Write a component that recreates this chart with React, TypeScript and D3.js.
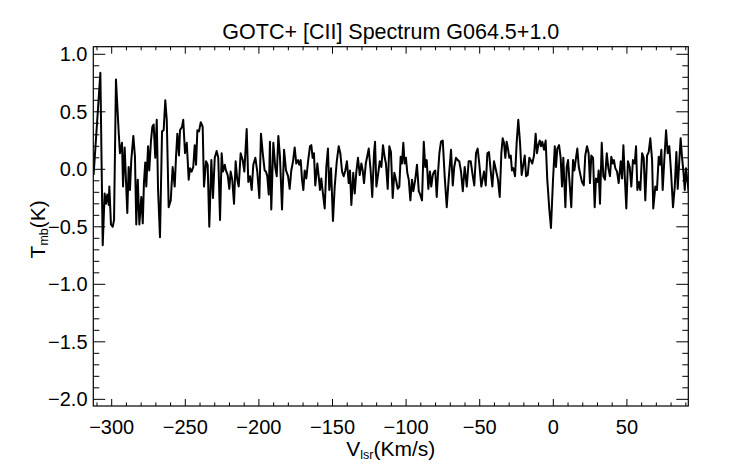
import * as d3 from 'd3';

// velocities (km/s) of the spectrum samples
const velocity = [
  -312.3, -307.7, -306.1, -304.8, -303.9, -303.0, -302.0, -301.6, -300.5, -299.3,
  -298.4, -297.1, -295.2, -294.4, -293.0, -292.3, -291.2, -289.4, -288.5, -287.6,
  -286.7, -285.3, -284.2, -283.3, -282.3, -281.2, -279.9, -278.9, -278.1, -277.2,
  -276.5, -275.3, -274.5, -273.3, -272.4, -271.5, -270.4, -269.4, -268.5, -267.2,
  -265.8, -264.7, -263.6, -262.6, -261.3, -259.9, -258.6, -257.2, -256.3, -255.4,
  -254.3, -253.6, -252.2, -251.4, -250.2, -249.0, -247.7, -246.8, -245.7, -244.6,
  -243.6, -242.7, -241.8, -240.7, -239.5, -238.2, -237.3, -235.9, -234.8, -233.7,
  -232.3, -231.2, -230.0, -228.7, -227.6, -226.4, -225.3, -224.4, -223.2, -222.4,
  -221.2, -220.1, -219.2, -218.1, -216.9, -215.8, -214.7, -213.7, -212.4, -211.0,
  -209.9, -208.3, -207.2, -206.0, -204.9, -203.8, -202.4, -201.1, -199.7, -198.6,
  -197.4, -196.1, -195.2, -194.3, -193.3, -192.5, -191.6, -190.2, -188.9, -187.9,
  -186.8, -185.7, -184.3, -182.9, -181.6, -180.2, -179.1, -178.0, -176.8, -175.7,
  -174.6, -173.4, -172.6, -171.6, -170.7, -169.8, -168.9, -167.8, -166.6, -165.3,
  -164.4, -163.5, -162.6, -161.7, -160.3, -159.4, -158.5, -157.6, -156.7, -155.3,
  -154.2, -153.1, -152.2, -151.0, -149.7, -148.5, -147.1, -145.8, -144.7, -143.5,
  -142.4, -141.3, -140.2, -139.0, -138.1, -137.2, -135.9, -134.9, -133.8, -132.7,
  -131.5, -130.4, -129.5, -128.6, -127.4, -126.6, -125.4, -124.1, -123.0, -121.8,
  -121.1, -120.2, -119.1, -117.9, -116.8, -115.7, -114.5, -113.7, -112.5, -111.4,
  -110.3, -109.1, -108.0, -106.9, -105.7, -104.6, -103.7, -102.8, -101.9, -101.0,
  -100.1, -99.2, -98.2, -97.1, -96.0, -95.1, -93.8, -92.6, -91.4, -90.4,
  -89.2, -88.0, -87.0, -86.0, -84.9, -83.8, -82.9, -81.9, -81.0, -80.2,
  -79.2, -78.3, -77.4, -76.3, -75.1, -73.8, -72.4, -71.1, -69.5, -68.3,
  -67.3, -66.1, -64.9, -63.9, -62.7, -61.5, -60.2, -58.8, -57.5, -56.1,
  -54.8, -53.7, -52.5, -51.4, -50.3, -48.9, -47.1, -45.9, -44.8, -43.7,
  -42.5, -41.4, -40.3, -38.9, -37.6, -36.4, -35.3, -34.4, -33.5, -32.6,
  -31.7, -30.8, -29.9, -28.9, -28.1, -27.2, -26.0, -24.9, -23.8, -22.6,
  -21.5, -20.4, -19.4, -18.5, -17.4, -16.3, -15.4, -14.3, -13.1, -12.0,
  -11.1, -10.2, -9.2, -8.4, -7.5, -6.3, -5.2, -4.1, -2.7, -1.6,
  -0.2, 1.0, 1.8, 2.7, 3.9, 5.0, 5.9, 6.8, 8.2, 9.1,
  10.0, 10.9, 12.2, 13.4, 14.3, 15.2, 16.3, 17.3, 18.6, 19.5,
  20.7, 21.7, 22.9, 24.0, 24.9, 25.8, 27.0, 28.1, 29.0, 30.2,
  30.8, 31.7, 32.9, 34.0, 35.1, 36.3, 37.4, 38.5, 39.4, 40.4,
  41.2, 42.1, 43.3, 44.4, 45.8, 46.7, 47.6, 48.5, 49.6, 50.7,
  51.9, 53.0, 54.1, 55.3, 56.2, 57.1, 58.0, 59.1, 60.3, 61.4,
  62.5, 63.7, 64.8, 65.9, 67.1, 67.9, 69.3, 70.4, 71.6, 72.5,
  73.4, 74.3, 75.4, 76.6, 77.7, 78.8, 80.0, 81.3, 82.5, 83.6,
  84.5, 85.6, 86.5, 87.4, 88.3, 89.3, 90.1, 91.0, 92.0,
];

// main-beam temperature (K) at each velocity
const tmb = [
  -0.05, 0.84, -0.66, -0.21, -0.30, -0.22, -0.31, -0.15, -0.48, -0.50,
  -0.44, 0.78, 0.31, 0.14, 0.23, -0.15, 0.19, -0.38, 0.02, -0.18,
  0.08, 0.29, 0.11, -0.48, -0.09, -0.48, -0.24, -0.47, -0.12, 0.06,
  -0.15, 0.20, -0.01, 0.25, 0.37, 0.39, 0.10, 0.43, -0.18, -0.59,
  0.33, 0.34, 0.60, 0.43, -0.33, -0.27, 0.02, -0.15, 0.11, 0.31,
  0.12, 0.34, 0.37, 0.43, 0.14, 0.23, -0.09, 0.01, -0.02, 0.02,
  0.21, 0.04, 0.34, 0.33, 0.41, 0.37, -0.15, 0.07, 0.04, -0.50,
  0.08, -0.25, 0.10, 0.16, 0.10, -0.44, 0.14, -0.02, 0.04, -0.01,
  -0.05, -0.17, -0.02, -0.09, -0.30, 0.07, -0.09, -0.15, 0.14, 0.08,
  -0.02, 0.35, -0.11, -0.06, -0.18, 0.04, 0.10, -0.02, -0.25, 0.31,
  0.14, -0.01, -0.02, -0.06, -0.22, 0.24, -0.35, 0.23, 0.02, -0.06,
  0.29, 0.11, -0.35, 0.17, -0.01, -0.06, -0.17, -0.01, 0.07, 0.19,
  0.05, 0.08, 0.04, 0.08, -0.09, -0.18, -0.01, -0.08, 0.07, 0.20,
  0.21, 0.10, 0.14, -0.14, 0.05, -0.06, -0.18, -0.08, -0.19, -0.34,
  0.02, 0.18, -0.18, 0.01, -0.45, -0.15, 0.07, 0.20, 0.14, -0.02,
  -0.06, -0.01, 0.07, -0.12, -0.01, -0.31, -0.03, -0.21, -0.02, 0.10,
  -0.05, 0.05, -0.01, -0.12, 0.05, 0.10, 0.18, -0.01, -0.24, 0.14,
  0.24, -0.15, -0.05, 0.07, 0.02, 0.21, 0.10, 0.05, -0.17, 0.20,
  0.15, -0.25, -0.03, -0.09, -0.17, -0.15, 0.11, 0.05, 0.23, 0.05,
  0.10, -0.03, -0.09, -0.27, -0.09, -0.19, -0.09, 0.04, -0.19, -0.22,
  -0.27, 0.24, 0.02, 0.08, -0.17, -0.02, -0.15, -0.05, -0.02, -0.01,
  -0.24, -0.03, 0.14, 0.24, 0.25, -0.06, -0.33, -0.09, 0.17, -0.14,
  0.02, 0.10, 0.08, 0.07, -0.02, -0.19, 0.02, -0.15, 0.07, 0.07,
  -0.05, -0.14, 0.14, 0.18, 0.05, -0.15, -0.02, -0.14, 0.14, 0.15,
  -0.02, -0.15, 0.07, -0.01, -0.09, -0.24, 0.14, 0.27, 0.23, 0.10,
  0.24, 0.18, 0.10, 0.12, -0.01, 0.01, -0.06, 0.23, 0.43, 0.23,
  -0.05, 0.04, 0.12, -0.06, -0.05, 0.10, 0.08, 0.05, 0.12, 0.31,
  0.14, 0.21, 0.25, 0.20, 0.24, 0.17, 0.25, -0.09, -0.35, -0.51,
  -0.09, 0.20, 0.02, 0.18, 0.21, 0.10, -0.15, 0.10, -0.33, 0.02,
  0.08, -0.09, -0.33, 0.08, -0.01, 0.08, 0.18, 0.02, -0.06, -0.11,
  -0.14, 0.12, 0.20, 0.14, -0.12, 0.12, 0.10, -0.33, -0.08, -0.11,
  -0.01, -0.30, 0.23, -0.06, -0.09, 0.14, 0.01, -0.06, 0.11, 0.05,
  0.08, 0.01, -0.02, -0.12, 0.07, -0.08, 0.21, -0.05, -0.34, 0.07,
  0.02, -0.15, 0.08, 0.05, 0.20, -0.18, -0.11, -0.18, 0.14, 0.10,
  -0.27, 0.12, 0.15, 0.27, 0.08, -0.34, -0.15, -0.18, 0.11, 0.04,
  0.17, -0.18, 0.08, 0.34, 0.14, 0.20, -0.03, -0.33, -0.15, 0.15,
  -0.17, 0.08, 0.27, 0.11, -0.01, -0.18, 0.01, -0.09, -0.20,
];

const xMajor = [-300, -250, -200, -150, -100, -50, 0, 50];
const yMajor = [-2.0, -1.5, -1.0, -0.5, 0.0, 0.5, 1.0];

const W = 742;
const H = 464;
const left = 93.3;
const right = 688.3;
const top = 46.7;
const bottom = 406;
const font = 'Liberation Sans, Arial, Helvetica, sans-serif';

const App = () => {
  const x = d3.scaleLinear().domain([-312.5, 91.7]).range([left, right]);
  const y = d3.scaleLinear().domain([-2.058, 1.066]).range([bottom, top]);

  const data: [number, number][] = velocity.map((v, i) => [v, tmb[i]]);
  const line = d3
    .line<[number, number]>()
    .x((d) => x(d[0]))
    .y((d) => y(d[1]));

  const xMinor = d3.range(-310, 91, 10).filter((v) => v % 50 !== 0);
  const yMinor = d3.range(-20, 11, 1).filter((v) => v % 5 !== 0).map((v) => v / 10);

  const fmtY = d3.format('.1f');
  const fmtX = d3.format('d');

  return (
    <svg
      width={W}
      height={H}
      style={{position: 'absolute', left: 0, top: 0, background: '#fff'}}
      fontFamily={font}
    >
      <defs>
        <clipPath id='plotClip'>
          <rect x={left} y={top} width={right - left} height={bottom - top} />
        </clipPath>
      </defs>

      <text x={(left + right) / 2} y={38.5} textAnchor='middle' fontSize={21.5}>
        GOTC+ [CII] Spectrum G064.5+1.0
      </text>

      <path
        d={line(data) ?? ''}
        fill='none'
        stroke='#000'
        strokeWidth={2}
        strokeLinejoin='round'
        clipPath='url(#plotClip)'
      />

      {/* x ticks on bottom and top */}
      {xMajor.map((v) => (
        <g key={'xM' + v} stroke='#000' strokeWidth={1}>
          <line x1={x(v)} x2={x(v)} y1={bottom} y2={bottom - 7} />
          <line x1={x(v)} x2={x(v)} y1={top} y2={top + 7} />
        </g>
      ))}
      {xMinor.map((v) => (
        <g key={'xm' + v} stroke='#000' strokeWidth={1}>
          <line x1={x(v)} x2={x(v)} y1={bottom} y2={bottom - 3.6} />
          <line x1={x(v)} x2={x(v)} y1={top} y2={top + 3.6} />
        </g>
      ))}

      {/* y ticks on left and right */}
      {yMajor.map((v) => (
        <g key={'yM' + v} stroke='#000' strokeWidth={1}>
          <line x1={left} x2={left + 12} y1={y(v)} y2={y(v)} />
          <line x1={right} x2={right - 12} y1={y(v)} y2={y(v)} />
        </g>
      ))}
      {yMinor.map((v) => (
        <g key={'ym' + v} stroke='#000' strokeWidth={1}>
          <line x1={left} x2={left + 6} y1={y(v)} y2={y(v)} />
          <line x1={right} x2={right - 6} y1={y(v)} y2={y(v)} />
        </g>
      ))}

      <rect
        x={left}
        y={top}
        width={right - left}
        height={bottom - top}
        fill='none'
        stroke='#000'
        strokeWidth={1.2}
      />

      {xMajor.map((v) => (
        <text key={'xl' + v} x={x(v)} y={433.5} textAnchor='middle' fontSize={20}>
          {fmtX(v)}
        </text>
      ))}
      {yMajor.map((v) => (
        <text
          key={'yl' + v}
          x={87.5}
          y={y(v)}
          dy='0.35em'
          textAnchor='end'
          fontSize={20}
        >
          {fmtY(v)}
        </text>
      ))}

      <text x={(left + right) / 2} y={455.5} textAnchor='middle' fontSize={21}>
        V
        <tspan fontSize={12.5} dy={3}>
          lsr
        </tspan>
        <tspan dy={-3}>(Km/s)</tspan>
      </text>

      <text
        transform={`translate(45,${(top + bottom) / 2 + 3}) rotate(-90)`}
        textAnchor='middle'
        fontSize={21}
      >
        T
        <tspan fontSize={12.5} dy={3}>
          mb
        </tspan>
        <tspan dy={-3}>(K)</tspan>
      </text>
    </svg>
  );
};

export default App;
